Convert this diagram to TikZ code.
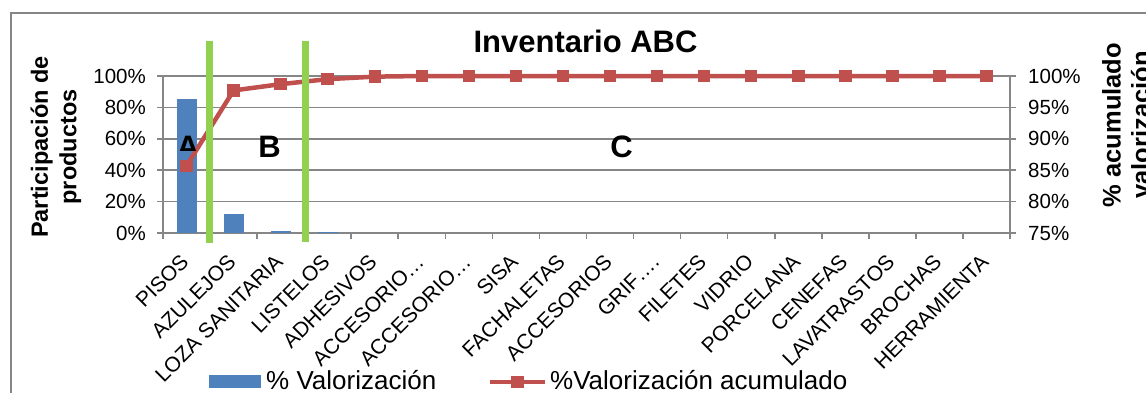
\documentclass[tikz,border=0pt]{standalone}
\usepackage{fontspec}
\setmainfont{Liberation Sans}
\definecolor{barc}{HTML}{4F81BD}
\definecolor{redc}{HTML}{C0504D}
\definecolor{greenc}{HTML}{92D050}
\definecolor{gridc}{HTML}{868686}
\tikzset{
  gridline/.style={draw=gridc, line width=1.6pt},
  tickline/.style={draw=gridc, line width=1.6pt},
  ticklab/.style={inner sep=0pt, font=\fontsize{20.5}{24}\selectfont},
  catlab/.style={inner sep=0pt, rotate=45, anchor=base east, font=\fontsize{21}{24}\selectfont},
  bigletter/.style={inner sep=0pt, anchor=base, font=\bfseries\fontsize{31}{36}\selectfont},
  axtitle/.style={inner sep=0pt, rotate=90, align=center, font=\bfseries\fontsize{23.5}{28.5}\selectfont},
  axtitler/.style={inner sep=0pt, rotate=90, align=center, font=\bfseries\fontsize{25.5}{29}\selectfont},
  legtext/.style={inner sep=0pt, anchor=base west, font=\fontsize{26}{30}\selectfont},
  redline/.style={draw=redc, line width=4.5pt, line join=round},
  sqmark/.style={fill=redc, minimum size=12.5pt, inner sep=0pt, outer sep=0pt},
  zoneline/.style={draw=greenc, line width=7pt},
  barfill/.style={fill=barc}
}
\begin{document}
\begin{tikzpicture}[x=1pt,y=-1pt]
\useasboundingbox (0,0) rectangle (1146,392);
\fill[white] (0,0) rectangle (1146,392);
% chart frame (only left and top visible)
\begin{scope}
\clip (0,0) rectangle (1146,392);
\draw[gridc, line width=1.6pt] (11,13) rectangle (1200,450);
\end{scope}
% horizontal gridlines and ticks
\foreach \i in {0,...,5}{
  \pgfmathsetmacro{\yy}{233-\i*31.4}
  \draw[gridline] (163,\yy) -- (1010,\yy);
  \draw[tickline] (157,\yy) -- (163,\yy);
  \draw[tickline] (1010,\yy) -- (1016,\yy);
}
% left tick labels
\foreach \i/\t in {0/0,1/20,2/40,3/60,4/80,5/100}{
  \node[ticklab, anchor=east] (ly\i) at (146,{233-\i*31.4}) {\t\%};
}
% right tick labels
\foreach \i/\t in {0/75,1/80,2/85,3/90,4/95,5/100}{
  \node[ticklab, anchor=west] (ry\i) at (1028,{233-\i*31.4}) {\t\%};
}
% axes
\draw[tickline] (163,76) -- (163,233);
\draw[tickline] (1010,76) -- (1010,233);
\draw[tickline] (163,233) -- (1010,233);
\foreach \k in {0,...,18}{
  \draw[tickline] ({163+\k*47.0556},233) -- ++(0,6);
}
% bars
\foreach \v [count=\k] in {85.3,12.1,1.2,0.5}{
  \fill[barfill] ({163+(\k-0.5)*47.0556-10},233) rectangle ++(20,{-\v*1.57});
}
% cumulative line
\foreach \v [count=\k] in {85.7,97.7,98.7,99.5,99.9,100,100,100,100,100,100,100,100,100,100,100,100,100}{
  \coordinate (p\k) at ({163+(\k-0.5)*47.0556},{233-(\v-75)*6.28});
}
\draw[redline] (p1)
  \foreach \k in {2,...,18}{ -- (p\k) };
\foreach \k in {1,...,18}{
  \node[sqmark] (m\k) at (p\k) {};
}
% category labels
\foreach \n [count=\k] in {PISOS,AZULEJOS,LOZA SANITARIA,LISTELOS,ADHESIVOS,ACCESORIO…,ACCESORIO…,SISA,FACHALETAS,ACCESORIOS,GRIF….,FILETES,VIDRIO,PORCELANA,CENEFAS,LAVATRASTOS,BROCHAS,HERRAMIENTA}{
  \node[catlab] (c\k) at ({163+(\k-0.5)*47.0556+3.5},263) {\n};
}
% zone letters
\begin{scope}
\clip (160,120) rectangle (205,150.5);
\node[bigletter] (la) at (188,157) {A};
\end{scope}
\node[bigletter] (lb) at (269.5,157) {B};
\node[bigletter] (lc) at (621.5,157) {C};
% zone separators
\draw[zoneline] (209.2,41) -- (209.2,243);
\draw[zoneline] (305.3,41) -- (305.3,242);
% title
\node[bigletter] (title) at (585.5,52) {Inventario ABC};
% axis titles
\node[axtitle] (yt1) at (56,147) {Participación de\\productos};
\node[axtitler] (yt2) at (1126,125) {\% acumulado\\valorización};
% legend
\fill[barfill] (209,375) rectangle (261,388);
\node[legtext] (lg1) at (266,389) {\% Valorización};
\coordinate (la1) at (490,382);
\coordinate (la2) at (545,382);
\draw[redline] (la1) -- (la2);
\node[sqmark] (lm) at (517.5,382) {};
\node[legtext] (lg2) at (550,389) {\%Valorización acumulado};
\end{tikzpicture}
\end{document}
